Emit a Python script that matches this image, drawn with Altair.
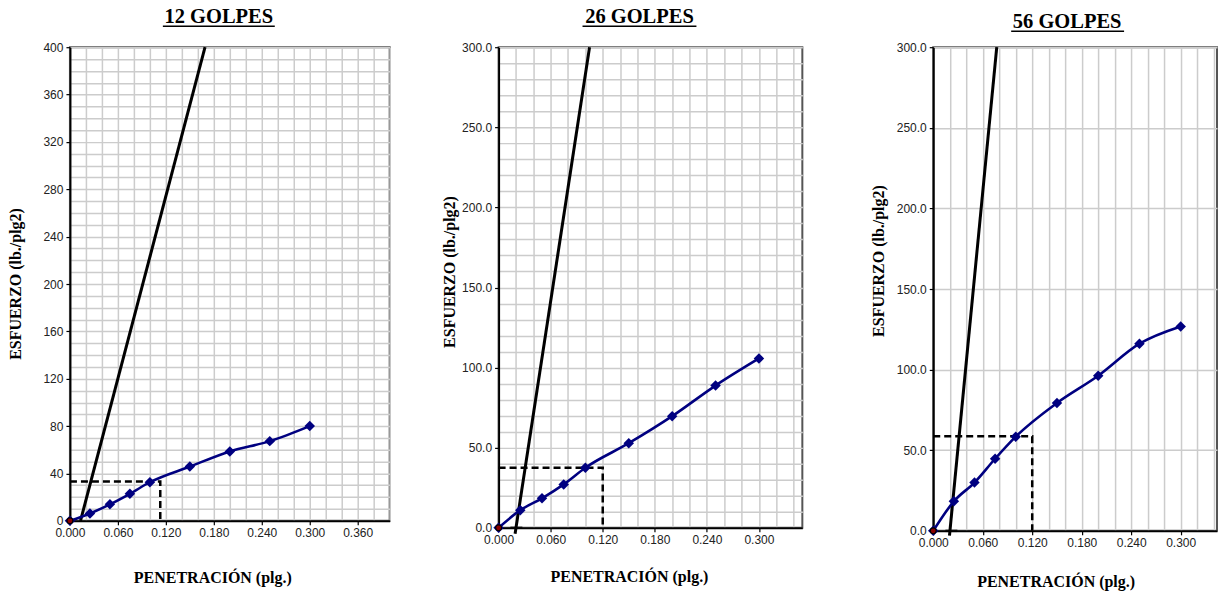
import altair as alt
import pandas as pd

# ---------------- data ----------------
pen = [0.000, 0.025, 0.050, 0.075, 0.100, 0.150, 0.200, 0.250, 0.300]
esf_12 = [0.0, 6.2, 13.9, 22.8, 32.6, 45.8, 58.6, 67.3, 80.0]
esf_26 = [0.0, 11.0, 18.4, 27.1, 37.5, 52.8, 69.7, 88.8, 105.7]
esf_56 = [0.0, 18.3, 29.9, 44.7, 58.4, 79.3, 96.2, 116.1, 126.8]

# tangent (correction) lines: two end points each
tan_12_x = [0.0132, 0.169]
tan_12_y = [0.0, 400.0]
tan_26_x = [0.0190, 0.1048]
tan_26_y = [-3.7, 300.0]
tan_56_x = [0.0197, 0.0770]
tan_56_y = [-3.0, 300.0]

# corrected value (dashed guide corner)
corr_12 = [0.113, 33.3]
corr_26 = [0.120, 37.5]
corr_56 = [0.120, 58.6]

# x-intercept markers of the tangent lines
int_26 = [0.0205, 0.0]
int_56 = [0.0220, 0.0]

titles = ["12 GOLPES", "26 GOLPES", "56 GOLPES"]
x_title = "PENETRACIÓN (plg.)"
y_title = "ESFUERZO (lb./plg2)"

NAVY = "#000080"
SERIF = "Liberation Serif"
SANS = "Liberation Sans"


def major_test(step):
    return f"abs(datum.value/{step} - round(datum.value/{step})) < 0.001"


def panel(title, esf, tan_x, tan_y, corr, inter, xmax, ymax, ymajor, yminor,
          yfmt, width, height, pos):
    xvals = [round(i * 0.02, 2) for i in range(int(round(xmax / 0.02 + 0.4)) + 1)]
    xvals = [v for v in xvals if v <= xmax + 1e-9]
    yvals = [round(i * yminor, 1) for i in range(int(round(ymax / yminor)) + 1)]

    xs = alt.Scale(domain=[0, xmax], nice=False, zero=False)
    ys = alt.Scale(domain=[0, ymax], nice=False, zero=False)
    xaxis = alt.Axis(
        values=xvals, grid=True, title=None,
        labelExpr=f"{major_test(0.06)} ? format(datum.value, '.3f') : ''",
        tickOpacity={"condition": {"test": major_test(0.06), "value": 1}, "value": 0},
        labelFlush=False, labelOverlap=False,
    )
    yaxis = alt.Axis(
        values=yvals, grid=True, title=None,
        labelExpr=f"{major_test(ymajor)} ? format(datum.value, '{yfmt}') : ''",
        tickOpacity={"condition": {"test": major_test(ymajor), "value": 1}, "value": 0},
        labelFlush=False, labelOverlap=False,
    )

    def enc(ch):
        return ch.encode(x=alt.X("pen:Q", scale=xs, axis=xaxis),
                         y=alt.Y("esf:Q", scale=ys, axis=yaxis))

    df = pd.DataFrame({"pen": pen, "esf": esf})
    df_tan = pd.DataFrame({"pen": tan_x, "esf": tan_y})
    df_dash = pd.DataFrame({"pen": [0.0, corr[0], corr[0]],
                            "esf": [corr[1], corr[1], 0.0],
                            "i": [0, 1, 2]})
    df_org = pd.DataFrame({"pen": [pen[0]], "esf": [esf[0]]})

    series = enc(alt.Chart(df).mark_line(color=NAVY, strokeWidth=2.6,
                                         interpolate="monotone"))
    points = enc(alt.Chart(df).mark_point(shape="diamond", filled=True,
                                          color=NAVY, size=110, opacity=1))
    tangent = enc(alt.Chart(df_tan).mark_line(color="black", strokeWidth=3))
    dashed = enc(alt.Chart(df_dash).mark_line(color="black", strokeWidth=2.5,
                                              strokeDash=[7, 4])).encode(order="i:Q")
    origin = enc(alt.Chart(df_org).mark_point(shape="circle", filled=True,
                                              fill="#8b0000", stroke="black",
                                              strokeWidth=1.2, size=35, opacity=1))
    layers = [dashed, tangent, series, points, origin]
    if inter is not None:
        df_int = pd.DataFrame({"pen": [inter[0]], "esf": [inter[1]]})
        layers.append(enc(alt.Chart(df_int).mark_tick(
            orient="horizontal", color="black", size=12, thickness=2.5)))

    t = alt.Chart(pd.DataFrame({"t": [title]})).mark_text(
        font=SERIF, fontWeight="bold", fontSize=20.5, align="center",
        baseline="alphabetic", color="black").encode(
        text="t:N", x=alt.value(pos["tx"]), y=alt.value(pos["ty"]))
    u = alt.Chart(pd.DataFrame({"t": [title]})).mark_rule(
        color="black", strokeWidth=1.5).encode(
        x=alt.value(pos["ux1"]), x2=alt.value(pos["ux2"]), y=alt.value(pos["uy"]))
    xt = alt.Chart(pd.DataFrame({"t": [x_title]})).mark_text(
        font=SERIF, fontWeight="bold", fontSize=16, align="center",
        baseline="middle", color="black").encode(
        text="t:N", x=alt.value(pos["xtx"]), y=alt.value(pos["xty"]))
    yt = alt.Chart(pd.DataFrame({"t": [y_title]})).mark_text(
        font=SERIF, fontWeight="bold", fontSize=16, align="center",
        baseline="middle", angle=270, color="black").encode(
        text="t:N", x=alt.value(pos["ytx"]), y=alt.value(pos["yty"]))
    layers += [t, u, xt, yt]
    return alt.layer(*layers).properties(width=width, height=height)


def spacer(w):
    return alt.Chart(pd.DataFrame({"a": [0]})).mark_point(opacity=0).encode(
        x=alt.value(0), y=alt.value(0)
    ).properties(width=w, height=470,
                 view=alt.ViewBackground(strokeOpacity=0, fillOpacity=0))


p1 = panel(titles[0], esf_12, tan_12_x, tan_12_y, corr_12, None,
           0.40, 400, 40, 10, "d", 320, 474,
           dict(tx=149, ty=-24, ux1=93, ux2=205, uy=-21,
                xtx=143, xty=531, ytx=-54, yty=237))
p2 = panel(titles[1], esf_26, tan_26_x, tan_26_y, corr_26, int_26,
           0.35, 300, 50, 10, ".1f", 304, 481,
           dict(tx=141, ty=-24, ux1=84, ux2=198, uy=-21,
                xtx=131, xty=530, ytx=-49, yty=225))
p3 = panel(titles[2], esf_56, tan_56_x, tan_56_y, corr_56, int_56,
           0.344, 300, 50, 50, ".1f", 284, 484,
           dict(tx=134, ty=-19, ux1=78, ux2=191, uy=-16,
                xtx=123, xty=535, ytx=-54, yty=214))

chart = alt.HConcatChart(
    hconcat=[p1, spacer(109), p2, spacer(131), p3], spacing=0, bounds="flush"
).properties(
    padding={"left": 7, "top": 6, "right": 0, "bottom": 0}
).configure_view(
    stroke="#555555", strokeWidth=2
).configure_axis(
    domainColor="black", domainWidth=2, tickColor="black", tickSize=4,
    tickWidth=1.2, labelFont=SANS, labelFontSize=12, labelColor="#222222",
    labelPadding=3, gridColor="#cccccc", gridWidth=1.5
)

chart.save("out.html", embed_options={"renderer": "svg", "actions": False})
